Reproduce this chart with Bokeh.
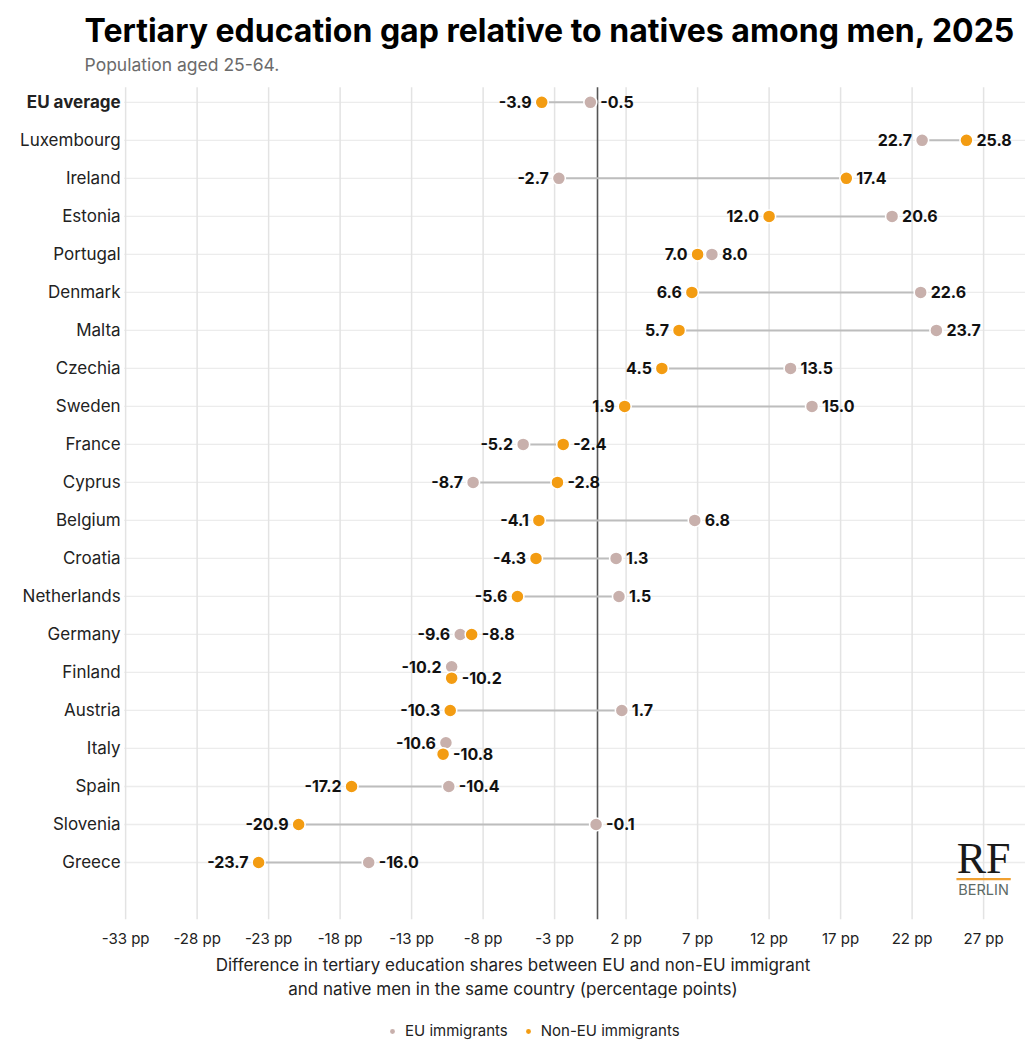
from bokeh.plotting import figure
from bokeh.layouts import column
from bokeh.models import (Range1d, FixedTicker, Title, Legend, LegendItem,
                          ColumnDataSource, Label, BoxAnnotation)
from bokeh.core.properties import value
from bokeh.embed import file_html
from bokeh.resources import INLINE

countries = ["EU average", "Luxembourg", "Ireland", "Estonia", "Portugal", "Denmark",
             "Malta", "Czechia", "Sweden", "France", "Cyprus", "Belgium", "Croatia",
             "Netherlands", "Germany", "Finland", "Austria", "Italy", "Spain",
             "Slovenia", "Greece"]
eu_vals = [-0.5, 22.7, -2.7, 20.6, 8.0, 22.6, 23.7, 13.5, 15.0, -5.2, -8.7, 6.8, 1.3,
           1.5, -9.6, -10.2, 1.7, -10.6, -10.4, -0.1, -16.0]
noneu_vals = [-3.9, 25.8, 17.4, 12.0, 7.0, 6.6, 5.7, 4.5, 1.9, -2.4, -2.8, -4.1, -4.3,
              -5.6, -8.8, -10.2, -10.3, -10.8, -17.2, -20.9, -23.7]
tick_vals = [-33, -28, -23, -18, -13, -8, -3, 2, 7, 12, 17, 22, 27]
tick_labels = [f"{t} pp" for t in tick_vals]
series_names = ["EU immigrants", "Non-EU immigrants"]

FONT = "Inter"
EU_COL = "#c8b0ac"
NONEU_COL = "#f39c12"

n = len(countries)
ypos = [n - 1 - i for i in range(n)]

XMIN, XMAX = -41.75, 29.93
YMIN, YMAX = -1.5, 22.68
GRID_TOP = n - 1 + 0.395
p = figure(frame_width=1025, frame_height=919, output_backend="svg", toolbar_location=None,
           x_range=Range1d(XMIN, XMAX), y_range=Range1d(YMIN, YMAX),
           min_border_left=0, min_border_right=0, min_border_top=0, min_border_bottom=0,
           outline_line_color=None)

# dodge rows where values nearly coincide
eu_y, ne_y = [], []
lx, ly, lt, rx, ry, rt = [], [], [], [], [], []
for i in range(n):
    y = ypos[i]
    e, ne = eu_vals[i], noneu_vals[i]
    dodge = abs(e - ne) < 0.5
    ey = y + (0.15 if dodge else 0)
    ny = y - (0.15 if dodge else 0)
    eu_y.append(ey)
    ne_y.append(ny)
    if dodge or e < ne:
        lx.append(e); ly.append(ey); lt.append(f"{e:.1f}")
        rx.append(ne); ry.append(ny); rt.append(f"{ne:.1f}")
    else:
        lx.append(ne); ly.append(ny); lt.append(f"{ne:.1f}")
        rx.append(e); ry.append(ey); rt.append(f"{e:.1f}")

# grid lines (horizontal per row, vertical per tick)
p.segment(x0=[-33.1] * n, x1=[XMAX] * n, y0=ypos, y1=ypos, line_color="#ececec", line_width=1.3)
p.segment(x0=tick_vals, x1=tick_vals, y0=[YMIN] * len(tick_vals), y1=[GRID_TOP] * len(tick_vals),
          line_color="#e3e3e3", line_width=1.5)
# zero reference line
p.segment(x0=[0], x1=[0], y0=[YMIN], y1=[GRID_TOP], line_color="#555555", line_width=1.6)

# axes
p.xaxis.ticker = FixedTicker(ticks=tick_vals)
p.xaxis.major_label_overrides = {t: l for t, l in zip(tick_vals, tick_labels)}
p.xaxis.axis_line_color = None
p.xaxis.major_tick_line_color = None
p.xaxis.minor_tick_line_color = None
p.xaxis.major_label_text_font = FONT
p.xaxis.major_label_text_font_size = "15px"
p.xaxis.major_label_text_color = "#222222"
p.xaxis.major_label_standoff = 3
p.xgrid.grid_line_color = None
p.ygrid.grid_line_color = None
p.yaxis.visible = False

# connectors
p.segment(x0=eu_vals, x1=noneu_vals, y0=eu_y, y1=ne_y, line_color="#bdbdbd", line_width=2)

p.scatter(eu_vals, eu_y, size=13, fill_color=EU_COL, line_color="white", line_width=1.5)
p.scatter(noneu_vals, ne_y, size=13, fill_color=NONEU_COL, line_color="white", line_width=1.5)

p.text(x=lx, y=ly, text=lt, text_align="right", text_baseline="middle", x_offset=-10,
       text_font=value(FONT), text_font_size="16px", text_font_style="bold", text_color="#111111")
p.text(x=rx, y=ry, text=rt, text_align="left", text_baseline="middle", x_offset=10,
       text_font=value(FONT), text_font_size="16px", text_font_style="bold", text_color="#111111")

# country labels
styles = ["bold" if c == "EU average" else "normal" for c in countries]
src = ColumnDataSource(dict(x=[-33.35] * n, y=ypos, t=countries, s=styles))
p.text(x="x", y="y", text="t", source=src, text_align="right", text_baseline="middle",
       text_font=value(FONT), text_font_size="17px", text_font_style="s", text_color="#222222")

# title and subtitle
p.add_layout(Label(x=-35.87, y=21.9, text="Tertiary education gap relative to natives among men, 2025",
                   text_align="left", text_baseline="middle", text_font=FONT,
                   text_font_size="32px", text_font_style="bold", text_color="#000000"))
p.add_layout(Label(x=-35.87, y=21.0, text="Population aged 25-64.",
                   text_align="left", text_baseline="middle", text_font=FONT,
                   text_font_size="17.5px", text_color="#6b6b6b"))

# logo
p.add_layout(Label(x=27.0, y=0.1, text="RF", text_align="center", text_baseline="middle",
                   text_font="Liberation Serif", text_font_size="44px", text_color="#1a1a1a"))
p.add_layout(BoxAnnotation(left=25.1, right=28.9, bottom=-0.47, top=-0.41,
                           fill_color="#f0a030", fill_alpha=1, line_color=None))
p.add_layout(Label(x=27.0, y=-0.72, text="BERLIN", text_align="center", text_baseline="middle",
                   text_font=FONT, text_font_size="14.5px", text_color="#5d6b67"))

# axis title (two lines, each centred)
p.add_layout(Title(text="Difference in tertiary education shares between EU and non-EU immigrant",
                   text_font=FONT, text_font_size="17px", text_font_style="normal",
                   text_color="#222222", align="center", offset=39, standoff=4), "below")
p.add_layout(Title(text="and native men in the same country (percentage points)",
                   text_font=FONT, text_font_size="17px", text_font_style="normal",
                   text_color="#222222", align="center", offset=39, standoff=0), "below")

# legend strip (separate small figure below the chart)
p2 = figure(frame_width=1025, frame_height=44, output_backend="svg", toolbar_location=None,
            x_range=Range1d(0, 1), y_range=Range1d(0, 1),
            min_border_left=0, min_border_right=0, min_border_top=0, min_border_bottom=0,
            outline_line_color=None)
p2.axis.visible = False
p2.grid.grid_line_color = None
# one off-range sample each so the legend swatches get drawn
l_eu = p2.scatter(x=[-5], y=[-5], size=12, fill_color=EU_COL, line_color="white", line_width=1.5)
l_ne = p2.scatter(x=[-5], y=[-5], size=12, fill_color=NONEU_COL, line_color="white", line_width=1.5)
legend = Legend(items=[LegendItem(label=series_names[0], renderers=[l_eu]),
                       LegendItem(label=series_names[1], renderers=[l_ne])],
                orientation="horizontal", location=(384, 2),
                label_text_font=FONT, label_text_font_size="15px", label_text_color="#222222",
                border_line_color=None, background_fill_alpha=0, glyph_width=16,
                glyph_height=18, label_height=18,
                spacing=12, margin=0, padding=3)
p2.add_layout(legend, "center")

layout = column(p, p2, spacing=0)
open("out.html", "w").write(file_html(layout, INLINE))
